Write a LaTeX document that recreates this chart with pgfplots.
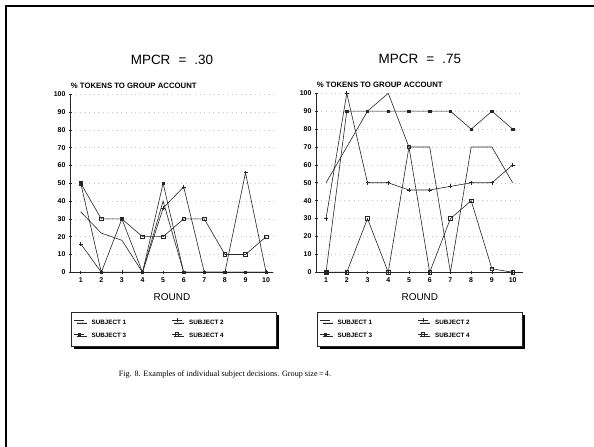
\documentclass[border=0pt]{standalone}
\usepackage{fontspec}
\setmainfont{Liberation Sans}
\newfontfamily\timesfont{Liberation Serif}
\usepackage{pgfplots}
\pgfplotsset{compat=1.18}
\usetikzlibrary{shadows}

\pgfplotsset{
  subjaxis/.style={
    scale only axis, clip=false,
    ymin=0, ymax=100, ytick={0,10,...,100},
    xtick={1,...,10},
    axis x line*=bottom, axis y line*=left,
    axis line style={-, line width=0.7bp, black!85},
    tick style={line width=0.6bp, black!85},
    tick align=center, major tick length=3.5bp,
    /pgf/number format/assume math mode=true,
    tick label style={font=\bfseries\fontsize{7}{8}\selectfont},
    ymajorgrids, grid style={black!22, line width=0.4bp, dash pattern=on 0.6bp off 4bp},
    ylabel={\% TOKENS TO GROUP ACCOUNT},
    every axis y label/.style={at={(0,1)}, anchor=base west, yshift=5.8bp, inner sep=0pt,
      font=\bfseries\fontsize{7.8}{9}\selectfont},
    xlabel={ROUND},
    every axis x label/.style={at={(0.5,0)}, anchor=center, yshift=-24.4bp,
      font=\fontsize{10}{12}\selectfont},
    every axis title/.style={at={(0.5,1)}, anchor=center, yshift=34.6bp,
      font=\fontsize{13.5}{15}\selectfont},
    legend columns=2,
    legend style={at={(0,0)}, anchor=north west, yshift=-39.7bp,
      draw=black!85, line width=0.6bp, fill=white,
      drop shadow={shadow xshift=2.5bp, shadow yshift=-2.5bp, fill=black, opacity=1},
      font=\bfseries\fontsize{6.3}{7.5}\selectfont,
      inner xsep=3bp, inner ysep=5bp, row sep=3.5bp, cells={anchor=west},
      /tikz/every odd column/.append style={column sep=5bp}},
    legend image code/.code={\path (0bp,-0.5bp) (0bp,5bp);
      \draw[mark repeat=2, mark phase=2, #1]
      plot coordinates {(0bp,2.3bp) (5bp,2.3bp) (10bp,2.3bp)};},
  },
  s1/.style={black!85, line width=0.6bp, mark=none},
  s2/.style={black!85, line width=0.6bp, mark=+, mark size=2bp},
  s3/.style={black!85, line width=0.6bp, mark=square*, mark size=1.2bp},
  s4/.style={black!85, line width=0.6bp, mark=square, mark size=1.8bp,
    mark options={fill=white, solid}},
}

\begin{document}
\begin{tikzpicture}
\useasboundingbox (0bp,0bp) rectangle (594bp,447bp);
\draw[line width=1.6bp, black] (6bp,-10bp) -- (6bp,441bp) -- (610bp,441bp);

\begin{axis}[subjaxis, at={(70.7bp,174.7bp)}, anchor=south west,
  width=202.6bp, height=178bp, xmin=0.514, xmax=10.35,
  title={MPCR\hspace{0.6em}=\hspace{0.6em}.30}]
\addplot[s1] coordinates {(1,34)(2,22)(3,18)(4,0)(5,40)(6,0)(7,0)(8,0)(9,0)(10,0)};
\addlegendentry{\makebox[78bp][l]{SUBJECT 1}}
\addplot[s2] coordinates {(1,16)(2,0)(3,0)(4,0)(5,36)(6,48)(7,0)(8,0)(9,56)(10,0)};
\addlegendentry{\makebox[82bp][l]{SUBJECT 2}}
\addplot[s3] coordinates {(1,50)(2,0)(3,30)(4,0)(5,50)(6,0)(7,0)(8,0)(9,0)(10,0)};
\addlegendentry{\makebox[78bp][l]{SUBJECT 3}}
\addplot[s4] coordinates {(1,50)(2,30)(3,30)(4,20)(5,20)(6,30)(7,30)(8,10)(9,10)(10,20)};
\addlegendentry{\makebox[82bp][l]{SUBJECT 4}}
\end{axis}

\begin{axis}[subjaxis, at={(316.7bp,174.7bp)}, anchor=south west,
  width=206.3bp, height=179bp, xmin=0.55, xmax=10.5,
  title={MPCR\hspace{0.6em}=\hspace{0.6em}.75}]
\addplot[s1] coordinates {(1,50)(2,70)(3,90)(4,100)(5,70)(6,70)(7,0)(8,70)(9,70)(10,50)};
\addlegendentry{\makebox[78bp][l]{SUBJECT 1}}
\addplot[s2] coordinates {(1,30)(2,100)(3,50)(4,50)(5,46)(6,46)(7,48)(8,50)(9,50)(10,60)};
\addlegendentry{\makebox[82bp][l]{SUBJECT 2}}
\addplot[s3] coordinates {(1,0)(2,90)(3,90)(4,90)(5,90)(6,90)(7,90)(8,80)(9,90)(10,80)};
\addlegendentry{\makebox[78bp][l]{SUBJECT 3}}
\addplot[s4] coordinates {(1,0)(2,0)(3,30)(4,0)(5,70)(6,0)(7,30)(8,40)(9,2)(10,0)};
\addlegendentry{\makebox[82bp][l]{SUBJECT 4}}
\end{axis}

\node[anchor=center, font=\timesfont\fontsize{8.2}{10}\selectfont] at (225bp,72bp)
  {Fig. 8. Examples of individual subject decisions. Group size\,=\,4.};
\end{tikzpicture}
\end{document}
